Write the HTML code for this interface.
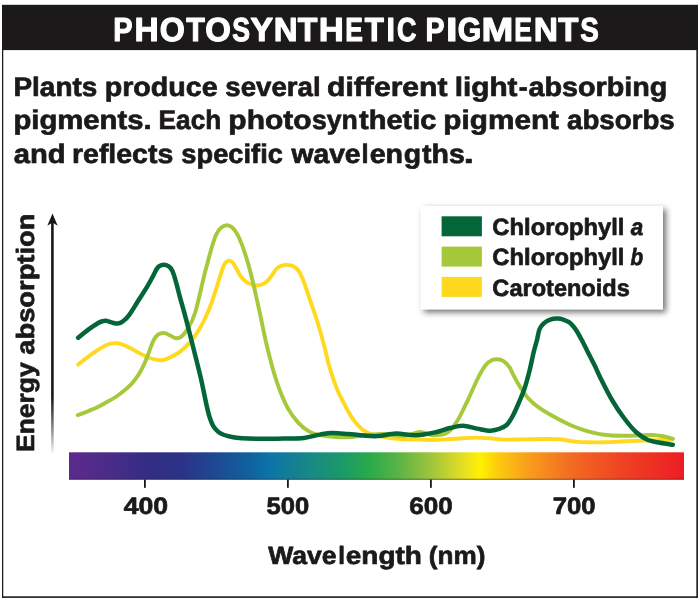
<!DOCTYPE html>
<html><head><meta charset="utf-8"><title>Photosynthetic Pigments</title>
<style>
html,body{margin:0;padding:0;background:#fff;}
body{width:700px;height:600px;overflow:hidden;font-family:"Liberation Sans",sans-serif;}
svg{display:block;opacity:0.999;}
text{font-family:"Liberation Sans",sans-serif;font-weight:bold;fill:#1c191a;stroke:#1c191a;stroke-width:0.7px;stroke-linejoin:round;text-rendering:geometricPrecision;}
</style></head><body>
<svg width="700" height="600" viewBox="0 0 700 600">
<defs>
<linearGradient id="spec" x1="0" y1="0" x2="1" y2="0">
<stop offset="0.0000" stop-color="#5c2a8d"/>
<stop offset="0.0667" stop-color="#4b2c88"/>
<stop offset="0.1317" stop-color="#322d84"/>
<stop offset="0.1886" stop-color="#2b3488"/>
<stop offset="0.2455" stop-color="#1c4c94"/>
<stop offset="0.2943" stop-color="#10629f"/>
<stop offset="0.3268" stop-color="#0c74a8"/>
<stop offset="0.3593" stop-color="#147e96"/>
<stop offset="0.4081" stop-color="#1a8e7c"/>
<stop offset="0.4407" stop-color="#19996a"/>
<stop offset="0.4894" stop-color="#2aaa4a"/>
<stop offset="0.5382" stop-color="#5db446"/>
<stop offset="0.5870" stop-color="#9dc43c"/>
<stop offset="0.6276" stop-color="#d3d82a"/>
<stop offset="0.6488" stop-color="#ece41c"/>
<stop offset="0.6683" stop-color="#fff100"/>
<stop offset="0.7008" stop-color="#fdc70f"/>
<stop offset="0.7496" stop-color="#f89c1c"/>
<stop offset="0.8179" stop-color="#f26b22"/>
<stop offset="0.8959" stop-color="#ef4423"/>
<stop offset="1.0000" stop-color="#ed1c24"/>
</linearGradient>
<linearGradient id="axfade" x1="0" y1="0" x2="0" y2="1">
<stop offset="0" stop-color="#1a1718"/><stop offset="0.76" stop-color="#1a1718"/><stop offset="0.9" stop-color="#1a1718" stop-opacity="0.5"/><stop offset="1" stop-color="#1a1718" stop-opacity="0.05"/>
</linearGradient>
<filter id="sh" x="-8%" y="-15%" width="120%" height="140%">
<feGaussianBlur in="SourceAlpha" stdDeviation="3.4"/>
<feOffset dx="2.8" dy="2.8" result="b"/>
<feComponentTransfer><feFuncA type="linear" slope="0.57"/></feComponentTransfer>
<feMerge><feMergeNode/><feMergeNode in="SourceGraphic"/></feMerge>
</filter>
</defs>
<rect x="0" y="0" width="700" height="600" fill="#fff"/>
<!-- frame -->
<rect x="2" y="4.8" width="696" height="45.3" fill="#1c191a"/>
<rect x="2" y="50" width="1.25" height="547.9" fill="#1c191a"/>
<rect x="696.3" y="50" width="1.7" height="547.9" fill="#2a2728"/>
<rect x="2" y="596.3" width="696" height="1.6" fill="#1c191a"/>
<text x="113.13" y="40.60" font-size="33.3" textLength="19.31" lengthAdjust="spacingAndGlyphs" style="fill:#fff;stroke:#fff;stroke-width:1.1px;">P</text>
<text x="134.52" y="40.60" font-size="33.3" textLength="24.20" lengthAdjust="spacingAndGlyphs" style="fill:#fff;stroke:#fff;stroke-width:1.1px;">H</text>
<text x="159.73" y="40.60" font-size="33.3" textLength="25.06" lengthAdjust="spacingAndGlyphs" style="fill:#fff;stroke:#fff;stroke-width:1.1px;">O</text>
<text x="186.19" y="40.60" font-size="33.3" textLength="18.60" lengthAdjust="spacingAndGlyphs" style="fill:#fff;stroke:#fff;stroke-width:1.1px;">T</text>
<text x="205.20" y="40.60" font-size="33.3" textLength="25.62" lengthAdjust="spacingAndGlyphs" style="fill:#fff;stroke:#fff;stroke-width:1.1px;">O</text>
<text x="232.27" y="40.60" font-size="33.3" textLength="17.74" lengthAdjust="spacingAndGlyphs" style="fill:#fff;stroke:#fff;stroke-width:1.1px;">S</text>
<text x="250.46" y="40.60" font-size="33.3" textLength="22.56" lengthAdjust="spacingAndGlyphs" style="fill:#fff;stroke:#fff;stroke-width:1.1px;">Y</text>
<text x="273.86" y="40.60" font-size="33.3" textLength="23.83" lengthAdjust="spacingAndGlyphs" style="fill:#fff;stroke:#fff;stroke-width:1.1px;">N</text>
<text x="297.67" y="40.60" font-size="33.3" textLength="19.64" lengthAdjust="spacingAndGlyphs" style="fill:#fff;stroke:#fff;stroke-width:1.1px;">T</text>
<text x="318.75" y="40.60" font-size="33.3" textLength="25.06" lengthAdjust="spacingAndGlyphs" style="fill:#fff;stroke:#fff;stroke-width:1.1px;">H</text>
<text x="345.29" y="40.60" font-size="33.3" textLength="17.67" lengthAdjust="spacingAndGlyphs" style="fill:#fff;stroke:#fff;stroke-width:1.1px;">E</text>
<text x="364.68" y="40.60" font-size="33.3" textLength="19.12" lengthAdjust="spacingAndGlyphs" style="fill:#fff;stroke:#fff;stroke-width:1.1px;">T</text>
<text x="386.53" y="40.60" font-size="33.3" textLength="8.46" lengthAdjust="spacingAndGlyphs" style="fill:#fff;stroke:#fff;stroke-width:1.1px;">I</text>
<text x="396.95" y="40.60" font-size="33.3" textLength="19.43" lengthAdjust="spacingAndGlyphs" style="fill:#fff;stroke:#fff;stroke-width:1.1px;">C</text>
<text x="425.46" y="40.60" font-size="33.3" textLength="18.96" lengthAdjust="spacingAndGlyphs" style="fill:#fff;stroke:#fff;stroke-width:1.1px;">P</text>
<text x="445.99" y="40.60" font-size="33.3" textLength="11.53" lengthAdjust="spacingAndGlyphs" style="fill:#fff;stroke:#fff;stroke-width:1.1px;">I</text>
<text x="457.81" y="40.60" font-size="33.3" textLength="23.48" lengthAdjust="spacingAndGlyphs" style="fill:#fff;stroke:#fff;stroke-width:1.1px;">G</text>
<text x="481.51" y="40.60" font-size="33.3" textLength="31.81" lengthAdjust="spacingAndGlyphs" style="fill:#fff;stroke:#fff;stroke-width:1.1px;">M</text>
<text x="514.29" y="40.60" font-size="33.3" textLength="17.67" lengthAdjust="spacingAndGlyphs" style="fill:#fff;stroke:#fff;stroke-width:1.1px;">E</text>
<text x="533.82" y="40.60" font-size="33.3" textLength="24.20" lengthAdjust="spacingAndGlyphs" style="fill:#fff;stroke:#fff;stroke-width:1.1px;">N</text>
<text x="558.16" y="40.60" font-size="33.3" textLength="20.16" lengthAdjust="spacingAndGlyphs" style="fill:#fff;stroke:#fff;stroke-width:1.1px;">T</text>
<text x="580.24" y="40.60" font-size="33.3" textLength="18.53" lengthAdjust="spacingAndGlyphs" style="fill:#fff;stroke:#fff;stroke-width:1.1px;">S</text>

<!-- paragraph -->
<text x="13.50" y="96.20" font-size="26.9" textLength="83.77" lengthAdjust="spacingAndGlyphs">Plants</text>
<text x="104.65" y="96.20" font-size="26.9" textLength="113.00" lengthAdjust="spacingAndGlyphs">produce</text>
<text x="225.38" y="96.20" font-size="26.9" textLength="95.23" lengthAdjust="spacingAndGlyphs">several</text>
<text x="327.12" y="96.20" font-size="26.9" textLength="120.39" lengthAdjust="spacingAndGlyphs">different</text>
<text x="454.76" y="96.20" font-size="26.9" textLength="62.77" lengthAdjust="spacingAndGlyphs">light</text>
<text x="518.80" y="96.20" font-size="26.9" textLength="8.92" lengthAdjust="spacingAndGlyphs">-</text>
<text x="528.51" y="96.20" font-size="26.9" textLength="138.89" lengthAdjust="spacingAndGlyphs">absorbing</text>
<text x="13.41" y="129.30" font-size="26.9" textLength="138.24" lengthAdjust="spacingAndGlyphs">pigments.</text>
<text x="158.61" y="129.30" font-size="26.9" textLength="62.67" lengthAdjust="spacingAndGlyphs">Each</text>
<text x="228.36" y="129.30" font-size="26.9" textLength="83.23" lengthAdjust="spacingAndGlyphs">photo</text>
<text x="311.91" y="129.30" font-size="26.9" textLength="45.86" lengthAdjust="spacingAndGlyphs">syn</text>
<text x="359.01" y="129.30" font-size="26.9" textLength="77.46" lengthAdjust="spacingAndGlyphs">thetic</text>
<text x="443.38" y="129.30" font-size="26.9" textLength="115.62" lengthAdjust="spacingAndGlyphs">pigment</text>
<text x="567.04" y="129.30" font-size="26.9" textLength="107.73" lengthAdjust="spacingAndGlyphs">absorbs</text>
<text x="13.70" y="162.80" font-size="26.9" textLength="51.85" lengthAdjust="spacingAndGlyphs">and</text>
<text x="71.96" y="162.80" font-size="26.9" textLength="101.33" lengthAdjust="spacingAndGlyphs">reflects</text>
<text x="181.39" y="162.80" font-size="26.9" textLength="101.54" lengthAdjust="spacingAndGlyphs">specific</text>
<text x="291.41" y="162.80" font-size="26.9" textLength="69.21" lengthAdjust="spacingAndGlyphs">wave</text>
<text x="361.55" y="162.80" font-size="26.9" textLength="7.11" lengthAdjust="spacingAndGlyphs">l</text>
<text x="369.73" y="162.80" font-size="26.9" textLength="33.38" lengthAdjust="spacingAndGlyphs">en</text>
<text x="403.68" y="162.80" font-size="26.9" textLength="17.40" lengthAdjust="spacingAndGlyphs">g</text>
<text x="422.02" y="162.80" font-size="26.9" textLength="42.80" lengthAdjust="spacingAndGlyphs">ths</text>
<text x="463.87" y="162.80" font-size="26.9" textLength="10.08" lengthAdjust="spacingAndGlyphs">.</text>

<!-- y axis -->
<rect x="51.1" y="222" width="2.6" height="230.5" fill="url(#axfade)"/>
<path d="M52.5 213.6 L57.7 225.8 L52.5 222.6 L47.3 225.8 Z" fill="#1a1718"/>
<text transform="translate(34.40 450.50) rotate(-90)" x="-1.41" y="0" font-size="25" textLength="89.60" lengthAdjust="spacingAndGlyphs">Energy</text>
<text transform="translate(34.40 450.50) rotate(-90)" x="95.85" y="0" font-size="25" textLength="140.96" lengthAdjust="spacingAndGlyphs">absorption</text>

<!-- curves -->
<g fill="none" stroke-linecap="round" stroke-linejoin="round">
<path d="M78.2 364.5C80.9 362.4 89.8 355.5 94.6 352.2C99.4 348.9 103.6 346.3 107.0 344.8C110.4 343.3 112.5 343.2 115.0 343.1C117.5 343.0 119.6 343.6 122.0 344.4C124.4 345.1 125.2 345.6 129.3 347.6C133.4 349.7 141.2 354.6 146.6 356.7C152.0 358.8 156.6 360.7 161.7 360.2C166.8 359.7 172.8 356.0 176.9 353.7C181.0 351.4 183.2 349.1 186.0 346.5C188.8 343.9 191.2 341.1 193.5 338.0C195.8 334.9 198.1 331.2 200.0 328.0C201.9 324.8 203.5 321.6 205.0 318.5C206.5 315.4 207.7 312.4 209.0 309.3C210.3 306.2 211.4 303.2 212.6 299.8C213.8 296.4 214.8 292.9 216.2 288.7C217.5 284.5 219.4 278.3 220.7 274.4C222.0 270.5 222.9 267.3 223.9 265.2C224.9 263.1 225.6 262.5 226.5 261.7C227.4 260.9 228.1 260.5 229.1 260.6C230.1 260.7 231.1 261.0 232.3 262.2C233.5 263.4 234.8 265.9 236.1 268.0C237.4 270.1 238.5 273.0 240.0 275.1C241.5 277.2 243.2 279.3 245.1 280.9C247.0 282.5 249.4 283.8 251.6 284.5C253.8 285.2 255.9 285.6 258.0 285.4C260.1 285.2 262.7 284.3 264.4 283.4C266.1 282.5 266.8 281.7 268.2 280.1C269.6 278.5 271.5 275.7 272.9 273.8C274.3 271.9 275.3 269.9 276.7 268.6C278.1 267.3 279.5 266.5 281.2 265.9C282.9 265.3 285.0 264.8 287.0 264.9C289.0 265.0 291.5 265.3 293.4 266.3C295.3 267.3 297.1 268.9 298.6 270.9C300.1 272.9 301.1 275.2 302.4 278.3C303.7 281.4 305.0 285.3 306.5 289.5C308.0 293.7 309.6 298.8 311.2 303.5C312.8 308.2 314.4 312.6 316.0 317.5C317.6 322.4 319.2 327.8 320.7 333.0C322.2 338.2 323.6 343.6 325.0 349.0C326.4 354.4 327.5 360.0 329.0 365.3C330.5 370.6 332.2 376.1 334.0 381.0C335.8 385.9 336.5 388.5 339.6 394.8C342.7 401.1 348.3 412.5 352.6 418.6C356.9 424.7 360.3 428.5 365.5 431.6C370.7 434.7 378.2 435.8 384.0 437.0C389.8 438.2 394.7 438.6 400.0 439.0C405.3 439.4 410.7 439.2 416.0 439.4C421.3 439.6 426.7 440.0 432.0 440.0C437.3 440.0 443.0 439.6 448.0 439.3C453.0 439.0 457.3 438.6 462.0 438.3C466.7 438.0 471.3 437.6 476.0 437.6C480.7 437.6 485.3 438.0 490.0 438.3C494.7 438.6 498.3 439.4 504.0 439.6C509.7 439.8 517.2 439.5 524.0 439.4C530.8 439.3 539.0 439.0 545.0 439.0C551.0 439.0 555.0 438.9 560.0 439.3C565.0 439.7 570.0 441.1 575.0 441.6C580.0 442.1 585.0 442.2 590.0 442.3C595.0 442.4 600.0 442.3 605.0 442.2C610.0 442.1 613.5 441.8 620.0 441.5C626.5 441.2 635.3 440.9 644.0 440.6C652.7 440.3 667.3 439.8 672.0 439.6" stroke="#ffd91e" stroke-width="3.9"/>
<path d="M77.8 415.1C79.5 414.5 84.7 412.6 88.0 411.2C91.3 409.8 94.7 408.4 97.9 406.9C101.1 405.4 103.9 403.7 107.0 402.0C110.1 400.3 113.6 398.4 116.4 396.5C119.2 394.6 121.5 392.9 124.0 390.8C126.5 388.8 129.3 386.3 131.3 384.2C133.3 382.1 134.4 380.6 136.0 378.4C137.6 376.2 139.2 373.7 140.6 371.2C142.0 368.7 143.3 366.2 144.5 363.5C145.7 360.8 146.9 357.5 148.0 354.7C149.1 351.9 150.0 349.0 151.0 346.5C152.0 344.0 152.6 341.9 153.8 339.9C155.0 337.9 156.4 335.6 158.2 334.5C160.0 333.4 162.7 332.9 164.7 333.1C166.7 333.3 168.4 334.8 170.3 335.6C172.2 336.5 174.1 338.0 175.9 338.2C177.8 338.4 179.6 338.0 181.4 336.6C183.2 335.2 184.7 333.8 187.0 329.8C189.3 325.8 192.1 322.6 195.2 312.5C198.3 302.4 202.3 282.3 205.8 269.3C209.3 256.3 212.7 241.9 216.2 234.6C219.7 227.2 223.4 225.2 227.0 225.2C230.6 225.2 233.9 228.0 237.5 234.6C241.1 241.2 244.9 252.6 248.5 264.9C252.1 277.2 255.7 294.5 258.8 308.2C261.9 321.9 264.2 334.9 267.2 347.2C270.2 359.5 273.4 371.7 276.8 381.8C280.2 391.9 284.0 401.0 287.6 407.8C291.2 414.6 294.8 418.9 298.4 422.9C302.0 426.9 305.7 429.6 309.3 431.6C312.9 433.6 315.6 434.1 320.0 435.0C324.4 435.9 330.7 436.7 336.0 437.0C341.3 437.3 346.7 437.3 352.0 437.0C357.3 436.7 362.7 435.5 368.0 435.0C373.3 434.5 377.9 433.9 384.0 434.0C390.1 434.1 398.5 436.2 404.5 435.9C410.5 435.6 415.2 432.1 420.0 432.0C424.8 431.9 428.4 435.1 433.0 435.2C437.6 435.3 443.4 435.0 447.5 432.6C451.6 430.2 454.6 424.7 457.4 420.6C460.1 416.5 462.1 411.7 464.0 408.0C465.9 404.3 467.1 401.8 468.8 398.2C470.5 394.6 472.2 390.4 474.0 386.5C475.8 382.6 477.7 378.5 479.6 374.9C481.6 371.3 483.7 367.4 485.7 365.0C487.7 362.6 489.9 361.2 491.8 360.3C493.7 359.4 495.0 359.2 496.9 359.3C498.8 359.4 501.0 359.6 503.1 360.9C505.2 362.2 507.6 364.6 509.4 367.2C511.2 369.8 512.3 373.0 514.1 376.4C515.9 379.8 518.0 383.7 520.4 387.4C522.8 391.1 525.1 395.0 528.3 398.4C531.4 401.8 534.8 404.8 539.3 407.9C543.8 411.0 549.5 414.3 555.0 417.3C560.5 420.3 566.5 423.5 572.0 425.8C577.5 428.1 582.7 429.9 588.0 431.4C593.3 432.9 598.7 434.1 604.0 434.8C609.3 435.5 614.7 435.7 620.0 435.8C625.3 435.9 630.7 435.7 636.0 435.6C641.3 435.5 647.3 434.9 652.0 435.0C656.7 435.1 660.5 435.8 664.0 436.4C667.5 437.0 671.5 438.4 673.0 438.8" stroke="#a5c93a" stroke-width="3.9"/>
<path d="M78.2 337.7C80.0 336.2 86.2 331.2 89.3 328.9C92.4 326.6 95.0 324.9 97.0 323.7C99.0 322.5 100.0 322.0 101.5 321.5C103.0 321.0 104.2 320.5 106.0 320.7C107.8 320.9 110.5 322.1 112.4 322.6C114.3 323.1 115.9 323.8 117.6 323.6C119.3 323.4 120.8 323.0 122.7 321.5C124.7 320.0 126.8 318.2 129.3 314.8C131.8 311.4 135.0 305.9 137.9 301.3C140.8 296.7 144.3 291.4 146.9 287.1C149.5 282.8 151.7 278.6 153.3 275.6C154.9 272.6 155.5 270.9 156.5 269.3C157.5 267.7 158.1 267.0 159.3 266.2C160.5 265.4 162.1 264.7 163.6 264.7C165.1 264.7 167.0 265.1 168.5 266.2C170.0 267.2 171.2 268.6 172.4 271.0C173.6 273.4 174.3 276.3 175.6 280.7C176.9 285.1 178.6 292.2 180.0 297.4C181.4 302.5 182.3 305.5 184.0 311.6C185.7 317.7 187.1 323.2 189.9 334.2C192.7 345.2 197.4 363.8 200.7 377.5C203.9 391.2 206.5 407.5 209.4 416.5C212.3 425.5 214.0 428.2 218.0 431.6C222.0 435.1 226.2 436.0 233.2 437.2C240.2 438.4 251.5 438.6 260.0 438.8C268.5 439.0 276.7 438.6 284.0 438.5C291.3 438.4 298.0 438.5 304.0 437.9C310.0 437.2 315.3 435.4 320.0 434.6C324.7 433.8 327.3 433.1 332.0 433.0C336.7 432.9 342.7 433.6 348.0 434.0C353.3 434.4 359.0 435.2 364.0 435.6C369.0 436.0 372.7 436.4 378.0 436.1C383.3 435.8 389.7 433.8 396.0 433.6C402.3 433.5 409.7 435.4 416.0 435.2C422.3 435.0 428.3 433.8 434.0 432.6C439.7 431.4 445.2 429.1 450.0 428.0C454.8 426.9 458.5 425.7 463.0 425.8C467.5 425.9 472.5 427.8 477.0 428.6C481.5 429.4 486.4 430.7 490.0 430.8C493.6 430.9 495.7 430.1 498.5 429.1C501.3 428.1 504.2 427.2 506.6 425.0C509.0 422.8 510.7 419.7 512.7 416.0C514.7 412.3 516.7 407.7 518.7 403.0C520.7 398.3 522.9 393.5 524.7 388.0C526.5 382.5 528.2 376.0 529.7 370.0C531.2 364.0 532.5 357.0 533.7 352.0C534.9 347.0 536.0 343.8 537.0 340.0C538.0 336.2 538.3 332.2 539.4 329.5C540.5 326.8 541.8 325.2 543.5 323.6C545.2 322.0 547.2 320.7 549.5 319.9C551.8 319.1 555.0 318.6 557.4 318.6C559.8 318.6 562.1 319.2 564.0 319.8C565.9 320.4 567.5 321.2 569.0 322.2C570.5 323.2 571.7 324.5 573.0 326.0C574.3 327.5 575.2 328.6 576.7 331.0C578.2 333.4 580.3 337.3 582.0 340.5C583.7 343.7 584.9 346.2 587.0 350.4C589.1 354.6 592.5 361.1 594.7 365.5C596.9 369.9 597.1 371.2 600.0 377.0C602.9 382.8 608.0 393.2 612.0 400.0C616.0 406.8 620.0 412.7 624.0 418.0C628.0 423.3 632.0 428.3 636.0 432.0C640.0 435.7 644.0 438.2 648.0 440.0C652.0 441.8 655.9 442.0 660.0 442.8C664.1 443.6 670.7 444.5 672.8 444.8" stroke="#046638" stroke-width="4.5"/>
</g>
<!-- spectrum -->
<rect x="69" y="452.3" width="615" height="27.19999999999999" fill="url(#spec)"/>
<rect x="69" y="478.8" width="615" height="0.9" fill="#1a1718" opacity="0.65"/>
<rect x="144.0" y="479.5" width="1.8" height="8.3" fill="#1a1718"/>
<text x="123.73" y="513.80" font-size="23.7" textLength="44.47" lengthAdjust="spacingAndGlyphs">400</text>
<rect x="287.0" y="479.5" width="1.8" height="8.3" fill="#1a1718"/>
<text x="266.55" y="513.80" font-size="23.7" textLength="42.71" lengthAdjust="spacingAndGlyphs">500</text>
<rect x="430.0" y="479.5" width="1.8" height="8.3" fill="#1a1718"/>
<text x="409.38" y="513.80" font-size="23.7" textLength="43.50" lengthAdjust="spacingAndGlyphs">600</text>
<rect x="573.0" y="479.5" width="1.8" height="8.3" fill="#1a1718"/>
<text x="552.74" y="513.80" font-size="23.7" textLength="42.92" lengthAdjust="spacingAndGlyphs">700</text>

<text x="268.30" y="564.40" font-size="25" textLength="68.26" lengthAdjust="spacingAndGlyphs">Wave</text>
<text x="338.15" y="564.40" font-size="25" textLength="6.71" lengthAdjust="spacingAndGlyphs">l</text>
<text x="345.76" y="564.40" font-size="25" textLength="76.11" lengthAdjust="spacingAndGlyphs">ength</text>
<text x="428.82" y="564.40" font-size="25" textLength="56.60" lengthAdjust="spacingAndGlyphs">(nm)</text>

<!-- legend -->
<rect x="420.8" y="206" width="242.2" height="103.30000000000001" fill="#fff" filter="url(#sh)"/>
<rect x="441.6" y="216.3" width="40.3" height="20" fill="#046638"/>
<text x="492.38" y="235.30" font-size="23.5" textLength="131.96" lengthAdjust="spacingAndGlyphs">Chlorophyll</text>
<text x="630.82" y="235.30" font-size="23.5" textLength="12.48" lengthAdjust="spacingAndGlyphs" font-style="italic">a</text>
<rect x="441.6" y="246.6" width="40.3" height="20" fill="#a5c93a"/>
<text x="492.38" y="265.40" font-size="23.5" textLength="131.96" lengthAdjust="spacingAndGlyphs">Chlorophyll</text>
<text x="630.59" y="265.40" font-size="23.5" textLength="12.66" lengthAdjust="spacingAndGlyphs" font-style="italic">b</text>
<rect x="441.6" y="276.9" width="40.3" height="20" fill="#ffd91e"/>
<text x="492.38" y="295.50" font-size="23.5" textLength="137.43" lengthAdjust="spacingAndGlyphs">Carotenoids</text>

</svg>
</body></html>
